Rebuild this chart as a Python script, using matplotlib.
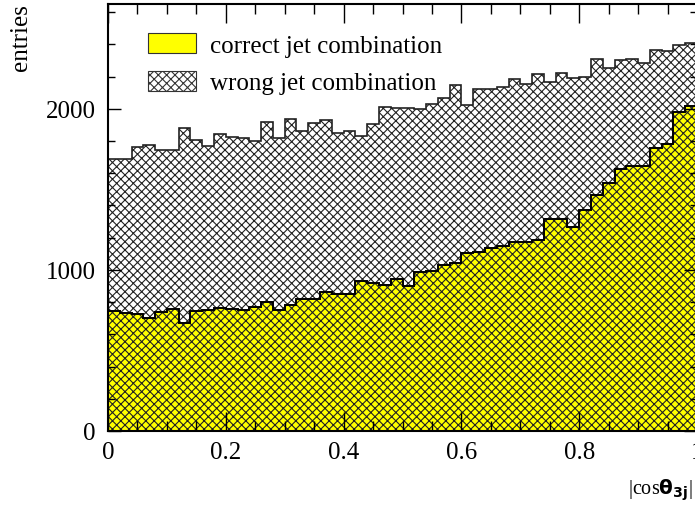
"""Stacked |cos theta_3j| histogram: correct vs wrong jet combinations."""

import matplotlib
matplotlib.use("Agg")
import matplotlib.pyplot as plt
import numpy as np
from matplotlib.patches import Patch
from matplotlib.ticker import MultipleLocator

plt.rcParams["font.family"] = ["Liberation Serif", "DejaVu Serif"]
plt.rcParams["mathtext.fontset"] = "custom"
plt.rcParams["mathtext.rm"] = "Liberation Serif"
plt.rcParams["mathtext.bf"] = "DejaVu Sans:bold"
plt.rcParams["hatch.linewidth"] = 0.8

# 50 bins of |cos theta_3j| between 0 and 1
bin_edges = np.linspace(0.0, 1.0, 51)

correct = [747, 733, 727, 702, 741, 758, 671, 747, 752, 764,
           758, 752, 768, 803, 753, 783, 820, 820, 863, 848,
           848, 929, 918, 903, 942, 899, 985, 992, 1030, 1040,
           1105, 1112, 1135, 1148, 1172, 1172, 1188, 1317, 1317, 1269,
           1372, 1464, 1538, 1627, 1644, 1644, 1756, 1783, 1980, 2017]

wrong = [943, 952, 1035, 1070, 1006, 983, 1211, 1060, 1016, 1077,
         1064, 1066, 1031, 1114, 1065, 1151, 1041, 1093, 1069, 1001,
         1013, 903, 985, 1107, 1064, 1105, 1015, 1035, 1036, 1109,
         916, 1012, 985, 987, 1014, 979, 1025, 849, 902, 922,
         825, 847, 715, 677, 667, 642, 606, 575, 413, 391]

labels = ["correct jet combination", "wrong jet combination"]

correct = np.array(correct)
total = correct + np.array(wrong)

fig = plt.figure(figsize=(6.95, 5.10), dpi=100)
ax = fig.add_axes([108 / 695, 78 / 510, 589 / 695, 427 / 510])

# yellow fill for correct, hatch over the whole stack
ax.stairs(correct, bin_edges, fill=True, color="#ffff00", linewidth=0)
ax.stairs(total, bin_edges, fill=True, facecolor="none", edgecolor="#222222",
          hatch="xxxx", linewidth=0)
ax.stairs(correct, bin_edges, color="black", linewidth=1.4, baseline=None)
ax.stairs(total, bin_edges, color="#222222", linewidth=1.2, baseline=None)

ax.set_xlim(0, 1)
ax.set_ylim(0, 2650)

ax.xaxis.set_major_locator(MultipleLocator(0.2))
ax.xaxis.set_minor_locator(MultipleLocator(0.05))
ax.yaxis.set_major_locator(MultipleLocator(1000))
ax.yaxis.set_minor_locator(MultipleLocator(200))
ax.set_xticks([0, 0.2, 0.4, 0.6, 0.8, 1.0])
ax.set_xticklabels(["0", "0.2", "0.4", "0.6", "0.8", "1"])

ax.tick_params(axis="both", which="both", direction="in", top=True,
               right=True, labelsize=18, width=1.0)
ax.tick_params(axis="x", which="major", length=14, pad=7)
ax.tick_params(axis="x", which="minor", length=7)
ax.tick_params(axis="y", which="major", length=9.5, pad=9)
ax.tick_params(axis="y", which="minor", length=5)
for sp in ax.spines.values():
    sp.set_linewidth(1.5)

handles = [
    Patch(facecolor="#ffff00", edgecolor="#333333", linewidth=0.8),
    Patch(facecolor="white", edgecolor="#333333", hatch="xxxx", linewidth=0.8),
]
ax.legend(handles, labels, loc="upper left", bbox_to_anchor=(0.068, 0.932),
          frameon=False, fontsize=18, handlelength=1.92, handleheight=0.84,
          handletextpad=0.56, labelspacing=0.57, borderpad=0, borderaxespad=0)

fig.text(21 / 695, 1 - 38 / 510, "entries", rotation=90, fontsize=18,
         ha="center", va="center")
fig.text(693 / 695, 1 - 490 / 510,
         r"$\mathrm{|cos}\mathbf{\theta}_{\mathbf{3j}}\mathrm{|}$",
         fontsize=14.5, ha="right", va="center")

fig.savefig("out.png", dpi=100)
